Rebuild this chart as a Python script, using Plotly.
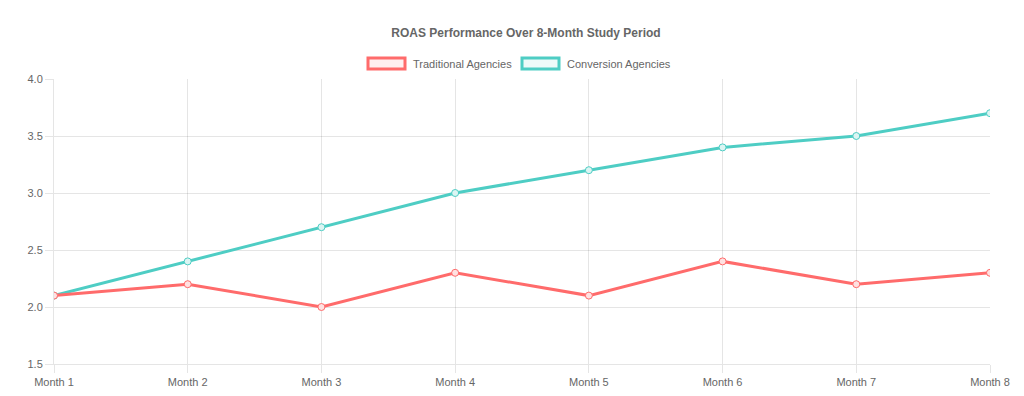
import plotly.graph_objects as go

months = ["Month 1", "Month 2", "Month 3", "Month 4", "Month 5", "Month 6", "Month 7", "Month 8"]
traditional = [2.1, 2.2, 2.0, 2.3, 2.1, 2.4, 2.2, 2.3]
conversion = [2.1, 2.4, 2.7, 3.0, 3.2, 3.4, 3.5, 3.7]
series_names = ["Traditional Agencies", "Conversion Agencies"]

RED = "#FF6B6B"
TEAL = "#4ECDC4"
GRID = "rgba(0,0,0,0.1)"
FONT = "Liberation Sans, Arial, Helvetica, sans-serif"

W, H = 1024, 396
L, R, T, B = 54, 34, 79, 32
pw, ph = W - L - R, H - T - B

fig = go.Figure()
fig.add_trace(go.Scatter(
    x=months, y=conversion, name=series_names[1], mode="lines+markers",
    line=dict(color=TEAL, width=3),
    marker=dict(size=7, color="rgba(220,245,243,1)", line=dict(color=TEAL, width=1)),
))
fig.add_trace(go.Scatter(
    x=months, y=traditional, name=series_names[0], mode="lines+markers",
    line=dict(color=RED, width=3),
    marker=dict(size=7, color="rgba(255,225,225,1)", line=dict(color=RED, width=1)),
))

def px(x):
    return (x - L) / pw

def py(y):
    return (H - B - y) / ph

shapes = []
annotations = []
legend_items = [
    (series_names[0], RED, "rgba(255,107,107,0.1)", 368, 405, 411),
    (series_names[1], TEAL, "rgba(78,205,196,0.1)", 522, 559, 565),
]
for name, col, fill, x0, x1, tx in legend_items:
    shapes.append(dict(type="rect", xref="paper", yref="paper",
                       x0=px(x0), x1=px(x1), y0=py(69), y1=py(58),
                       line=dict(color=col, width=3), fillcolor=fill))
    annotations.append(dict(text=name, xref="paper", yref="paper",
                            x=px(tx), y=py(63.5), xanchor="left", yanchor="middle",
                            showarrow=False, font=dict(family=FONT, size=11, color="#666")))

fig.update_layout(
    width=W, height=H,
    margin=dict(l=L, r=R, t=T, b=B, autoexpand=False),
    paper_bgcolor="white", plot_bgcolor="white",
    showlegend=False,
    title=dict(text="<b>ROAS Performance Over 8-Month Study Period</b>",
               x=526 / W, xref="container", y=1 - 33 / H, yref="container",
               xanchor="center", yanchor="middle",
               font=dict(family=FONT, size=12, color="#666")),
    font=dict(family=FONT, size=11, color="#666"),
    shapes=shapes, annotations=annotations,
    xaxis=dict(type="category", range=[0, 7], showgrid=True, gridcolor=GRID, gridwidth=1,
               showline=True, linecolor=GRID, linewidth=1, automargin=False,
               ticks="outside", ticklen=8, tickcolor=GRID, tickfont=dict(size=11, color="#666"),
               zeroline=False),
    yaxis=dict(range=[1.5, 4.0], dtick=0.5, tickformat=".1f", showgrid=True, gridcolor=GRID,
               gridwidth=1, showline=True, linecolor=GRID, linewidth=1, automargin=False,
               ticks="outside", ticklen=8, tickcolor=GRID, tickfont=dict(size=11, color="#666"),
               zeroline=False),
)

fig.write_html("out.html", config={"displayModeBar": False},
               post_script="document.body.style.margin='0';")
